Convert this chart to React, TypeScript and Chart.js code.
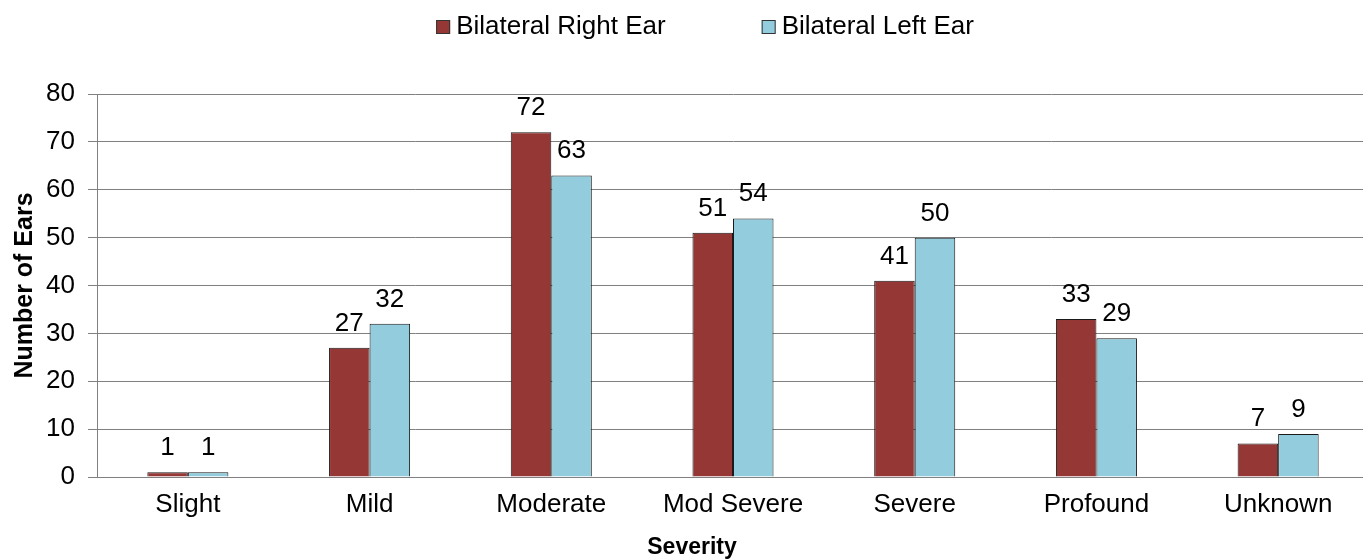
import React, { useEffect, useRef } from 'react';
import { Chart, registerables } from 'chart.js';

Chart.register(...registerables);

const categories = ['Slight', 'Mild', 'Moderate', 'Mod Severe', 'Severe', 'Profound', 'Unknown'];
const rightEarValues = [1, 27, 72, 51, 41, 33, 7];
const leftEarValues = [1, 32, 63, 54, 50, 29, 9];
const seriesNames = ['Bilateral Right Ear', 'Bilateral Left Ear'];
const seriesColors = ['#953735', '#93CDDD'];
const yMin = 0;
const yMax = 80;
const yStep = 10;
const xTitle = 'Severity';
const yTitle = 'Number of Ears';

const FONT = "'Liberation Sans', Arial, Helvetica, sans-serif";

const valueLabels = {
  id: 'valueLabels',
  afterDatasetsDraw(chart: any) {
    const ctx = chart.ctx;
    ctx.save();
    ctx.font = `26px ${FONT}`;
    ctx.fillStyle = '#000';
    ctx.textAlign = 'center';
    ctx.textBaseline = 'alphabetic';
    chart.data.datasets.forEach((ds: any, i: number) => {
      const meta = chart.getDatasetMeta(i);
      meta.data.forEach((bar: any, j: number) => {
        ctx.fillText(String(ds.data[j]), bar.x, bar.y - 17);
      });
    });
    ctx.restore();
  },
};

const topLegendAndXTitle = {
  id: 'topLegendAndXTitle',
  afterDraw(chart: any) {
    const ctx = chart.ctx;
    ctx.save();
    ctx.font = `26px ${FONT}`;
    const box = 14;
    const gap = 6;
    const spacing = 96;
    const items = chart.data.datasets.map((ds: any) => ({
      label: ds.label,
      color: ds.backgroundColor,
      w: box + gap + ctx.measureText(ds.label).width,
    }));
    const total = items.reduce((s: number, it: any) => s + it.w, 0) + spacing * (items.length - 1);
    let x = 705 - total / 2;
    const cy = 27;
    items.forEach((it: any) => {
      ctx.fillStyle = it.color;
      ctx.fillRect(x, cy - 7, box, box);
      ctx.strokeStyle = '#333';
      ctx.lineWidth = 1;
      ctx.strokeRect(x + 0.5, cy - 6.5, box - 1, box - 1);
      ctx.fillStyle = '#000';
      ctx.textBaseline = 'middle';
      ctx.textAlign = 'left';
      ctx.fillText(it.label, x + box + gap, cy);
      x += it.w + spacing;
    });
    // x-axis title
    ctx.font = `bold 23px ${FONT}`;
    ctx.textAlign = 'center';
    ctx.textBaseline = 'middle';
    ctx.fillStyle = '#000';
    ctx.fillText(xTitle, 692, 548);
    ctx.restore();
  },
};

export default function App() {
  const canvasRef = useRef<HTMLCanvasElement>(null);

  useEffect(() => {
    if (!canvasRef.current) return;
    Chart.defaults.font.family = FONT;
    const chart = new Chart(canvasRef.current, {
      type: 'bar',
      data: {
        labels: categories,
        datasets: [
          {
            label: seriesNames[0],
            data: rightEarValues,
            backgroundColor: seriesColors[0],
            borderColor: '#1a1a1a',
            borderWidth: 1,
            barPercentage: 1,
            categoryPercentage: 0.446,
          },
          {
            label: seriesNames[1],
            data: leftEarValues,
            backgroundColor: seriesColors[1],
            borderColor: '#1a1a1a',
            borderWidth: 1,
            barPercentage: 1,
            categoryPercentage: 0.446,
          },
        ],
      },
      options: {
        responsive: false,
        animation: false,
        devicePixelRatio: 1,
        layout: { padding: { left: 0, right: 6, top: 94, bottom: 0 } },
        plugins: {
          legend: { display: false },
          tooltip: { enabled: false },
        },
        scales: {
          x: {
            grid: { display: false, drawTicks: false },
            border: { display: true, color: '#808080' },
            ticks: { color: '#000', font: { size: 26 }, padding: 12, maxRotation: 0, autoSkip: false },
            title: { display: false, text: xTitle },
            afterFit: (s: any) => {
              s.height = 82;
            },
          },
          y: {
            min: yMin,
            max: yMax,
            ticks: { stepSize: yStep, color: '#000', font: { size: 26 }, padding: 13 },
            grid: { color: '#808080', tickLength: 9, drawTicks: true },
            border: { color: '#808080' },
            title: {
              display: true,
              text: yTitle,
              color: '#000',
              font: { size: 25, weight: 'bold', lineHeight: 1.1 },
              padding: { top: 11, bottom: 0 },
            },
            afterFit: (s: any) => {
              s.width = 97;
            },
          },
        },
      },
      plugins: [valueLabels, topLegendAndXTitle],
    });
    return () => chart.destroy();
  }, []);

  return (
    <div style={{ position: 'fixed', left: 0, top: 0, width: 1363, height: 559, overflow: 'hidden', background: '#fff' }}>
      <canvas ref={canvasRef} width={1375} height={559} style={{ display: 'block' }} />
    </div>
  );
}
